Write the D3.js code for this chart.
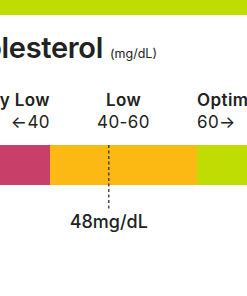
<!DOCTYPE html>
<html><head><meta charset="utf-8">
<script src="https://cdn.jsdelivr.net/npm/d3@7"></script>
<style>
html,body{margin:0;padding:0;background:#fff;overflow:hidden;}
svg{display:block;}
text{font-family:Inter,"Noto Sans",sans-serif;fill:#222;}
</style></head>
<body>
<svg id="chart" width="247" height="296"></svg>
<script>
const title = "Cholesterol";
const unit = "(mg/dL)";
const bandNames = ["Very Low", "Low", "Optimal"];
const bandRanges = ["\u219040", "40-60", "60\u2192"];
const bandStarts = [20, 40, 60];
const bandEnds = [40, 60, 80];
const bandColors = ["#C8406A", "#FDB913", "#BFDC03"];
const reading = 48;
const readingLabel = "48mg/dL";

const svg = d3.select("#chart");
const x = d3.scaleLinear().domain([40, 60]).range([50, 197]);

// top header strip
svg.append("rect").attr("x", 0).attr("y", 0).attr("width", 247).attr("height", 15).attr("fill", bandColors[2]);

// title
svg.append("text").attr("x", 103).attr("y", 58).attr("text-anchor", "end")
  .attr("font-size", 29).attr("font-weight", 600).attr("letter-spacing", "-0.3").text(title);
svg.append("text").attr("x", 110).attr("y", 58).attr("font-size", 12.5).text(unit);

const bands = bandNames.map((n, i) => ({name: n, range: bandRanges[i], from: bandStarts[i], to: bandEnds[i], color: bandColors[i]}));

svg.selectAll("rect.band").data(bands).join("rect").attr("class", "band")
  .attr("x", d => x(d.from)).attr("y", 145)
  .attr("width", d => x(d.to) - x(d.from)).attr("height", 40)
  .attr("fill", d => d.color);

const anchor = (i) => i === 0 ? "end" : (i === bands.length - 1 ? "start" : "middle");
const ax = (d, i) => i === 0 ? x(d.to) : (i === bands.length - 1 ? x(d.from) : (x(d.from) + x(d.to)) / 2);

svg.selectAll("text.bname").data(bands).join("text").attr("class", "bname")
  .attr("x", ax).attr("y", 106).attr("text-anchor", (d, i) => anchor(i))
  .attr("font-size", 17).attr("font-weight", 600).attr("letter-spacing", "0.4").text(d => d.name);
svg.selectAll("text.brange").data(bands).join("text").attr("class", "brange")
  .attr("x", ax).attr("y", 128).attr("text-anchor", (d, i) => anchor(i))
  .attr("font-size", 17).attr("letter-spacing", "0.4").text(d => d.range);

// reading marker
svg.append("line").attr("x1", x(reading)).attr("x2", x(reading)).attr("y1", 145).attr("y2", 210)
  .attr("stroke", "#333").attr("stroke-width", 1.3).attr("stroke-dasharray", "3,2.5");
svg.append("text").attr("x", x(reading)).attr("y", 228).attr("text-anchor", "middle")
  .attr("font-size", 18).attr("font-weight", 500).text(readingLabel);
</script>
</body></html>
